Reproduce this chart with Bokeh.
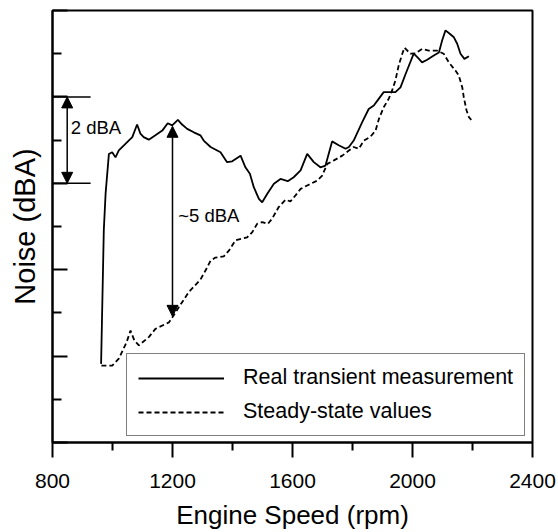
from bokeh.plotting import figure
from bokeh.models import (Range1d, FixedTicker, Legend, LegendItem, Arrow, NormalHead,
                          CustomLabelingPolicy)
from bokeh.core.properties import value
from bokeh.embed import file_html
from bokeh.resources import INLINE

# --- data (engine speed in rpm, noise in relative dBA) ---
real_rpm = [962, 971, 977, 988, 999, 1010, 1021, 1038, 1054, 1066, 1082, 1093, 1104, 1121,
            1143, 1166, 1184, 1199, 1218, 1232, 1249, 1271, 1293, 1304, 1327, 1360, 1382,
            1399, 1427, 1443, 1458, 1471, 1488, 1499, 1516, 1538, 1560, 1584, 1604, 1627,
            1649, 1671, 1693, 1710, 1732, 1754, 1777, 1788, 1804, 1832, 1854, 1871, 1888,
            1904, 1943, 1960, 1977, 2004, 2016, 2032, 2049, 2071, 2088, 2099, 2110, 2121,
            2138, 2149, 2160, 2173, 2188]
real_noise = [1.82, 4.91, 5.76, 6.68, 6.72, 6.60, 6.76, 6.88, 6.99, 7.07, 7.36, 7.15, 7.07, 7.01,
              7.11, 7.22, 7.39, 7.34, 7.47, 7.36, 7.26, 7.18, 7.11, 6.99, 6.84, 6.72, 6.49,
              6.51, 6.64, 6.37, 6.22, 5.91, 5.64, 5.56, 5.76, 5.99, 6.10, 6.05, 6.14, 6.30,
              6.68, 6.49, 6.37, 6.41, 6.97, 6.88, 6.80, 6.84, 6.99, 7.41, 7.72, 7.80, 7.96,
              8.11, 8.11, 8.22, 8.53, 9.00, 8.92, 8.80, 8.86, 8.96, 9.03, 9.31, 9.54, 9.48,
              9.38, 9.23, 9.00, 8.88, 8.94]

steady_rpm = [963, 999, 1021, 1047, 1060, 1073, 1088, 1121, 1143, 1188, 1202, 1221, 1254, 1293,
              1310, 1327, 1343, 1371, 1388, 1410, 1432, 1449, 1466, 1482, 1499, 1518, 1532,
              1554, 1577, 1593, 1610, 1627, 1649, 1682, 1699, 1716, 1738, 1766, 1788, 1804,
              1821, 1838, 1860, 1877, 1888, 1904, 1921, 1932, 1943, 1954, 1966, 1973, 1993,
              2010, 2032, 2054, 2082, 2104, 2121, 2143, 2154, 2166, 2171, 2180, 2188, 2196]
steady_noise = [1.78, 1.78, 1.94, 2.32, 2.59, 2.36, 2.25, 2.44, 2.63, 2.78, 2.92, 3.13, 3.48, 3.77,
                3.98, 4.21, 4.28, 4.31, 4.44, 4.68, 4.72, 4.75, 4.87, 5.06, 5.10, 5.06, 5.18,
                5.45, 5.62, 5.58, 5.72, 5.87, 5.95, 6.06, 6.18, 6.45, 6.53, 6.64, 6.76, 6.84,
                6.80, 6.99, 7.08, 7.22, 7.49, 7.76, 7.96, 8.15, 8.38, 8.73, 9.00, 9.14, 9.00,
                9.01, 9.11, 9.07, 9.07, 9.00, 8.80, 8.61, 8.50, 8.22, 7.99, 7.69, 7.53, 7.47]

series_labels = ["Real transient measurement", "Steady-state values"]
x_title = "Engine Speed (rpm)"
y_title = "Noise (dBA)"
x_major_ticks = [800, 1200, 1600, 2000, 2400]
x_minor_ticks = [1000, 1400, 1800, 2200]
y_major_ticks = [0, 2, 4, 6, 8, 10]
y_minor_ticks = [1, 3, 5, 7, 9]

# annotation values
bracket_levels = [6, 8]          # 2 dBA bracket (dBA)
bracket_x = [800, 927]           # extent of bracket lines (rpm)
bracket_arrow_x = 849
big_arrow_x = 1200
big_arrow_top = 7.32
big_arrow_bottom = 2.92
ann_texts = ["2 dBA", "~5 dBA"]
ann_x = [861, 1219]
ann_y = [7.30, 5.25]

FONT = "Liberation Sans"

p = figure(width=558, height=532, output_backend="svg", toolbar_location=None,
           x_range=Range1d(800, 2400), y_range=Range1d(0, 10),
           min_border_left=52, min_border_right=26, min_border_top=10, min_border_bottom=90)
p.xgrid.visible = False
p.ygrid.visible = False
p.outline_line_color = "black"
p.outline_line_width = 2
p.background_fill_color = "white"
p.border_fill_color = "white"

# x axis
xa = p.xaxis[0]
xa.ticker = FixedTicker(ticks=x_major_ticks, minor_ticks=x_minor_ticks)
xa.axis_line_width = 2
xa.major_tick_line_width = 2
xa.minor_tick_line_width = 2
xa.major_tick_out = 15
xa.major_tick_in = 0
xa.minor_tick_out = 8
xa.minor_tick_in = 0
xa.major_label_text_font = FONT
xa.major_label_text_font_size = "21px"
xa.major_label_text_color = "black"
xa.major_label_standoff = 16
xa.axis_label = x_title
xa.axis_label_text_font = FONT
xa.axis_label_text_font_size = "26px"
xa.axis_label_text_font_style = "normal"
xa.axis_label_text_color = "black"
xa.axis_label_standoff = 9

# y axis (ticks only, no tick labels)
ya = p.yaxis[0]
ya.ticker = FixedTicker(ticks=y_major_ticks, minor_ticks=y_minor_ticks)
ya.axis_line_width = 2
ya.major_tick_line_width = 2
ya.minor_tick_line_width = 2
ya.major_tick_in = 15
ya.major_tick_out = 0
ya.minor_tick_in = 9
ya.minor_tick_out = 0
ya.major_label_policy = CustomLabelingPolicy(code="return []")
ya.major_label_text_font_size = "0px"
ya.major_label_standoff = 0
ya.axis_label = y_title
ya.axis_label_text_font = FONT
ya.axis_label_text_font_size = "29px"
ya.axis_label_text_font_style = "normal"
ya.axis_label_text_color = "black"
ya.axis_label_standoff = 12

# curves
r_real = p.line(real_rpm, real_noise, line_color="black", line_width=1.8)
r_steady = p.line(steady_rpm, steady_noise, line_color="black", line_width=1.8, line_dash="5 3")

# 2 dBA bracket
for lvl in bracket_levels:
    p.line(bracket_x, [lvl, lvl], line_color="black", line_width=1.5)
p.add_layout(Arrow(x_start=bracket_arrow_x, y_start=bracket_levels[0],
                   x_end=bracket_arrow_x, y_end=bracket_levels[1],
                   start=NormalHead(size=11, fill_color="black", line_color="black"),
                   end=NormalHead(size=11, fill_color="black", line_color="black"),
                   line_width=1.5))
# ~5 dBA arrow
p.add_layout(Arrow(x_start=big_arrow_x, y_start=big_arrow_bottom,
                   x_end=big_arrow_x, y_end=big_arrow_top,
                   start=NormalHead(size=11, fill_color="black", line_color="black"),
                   end=NormalHead(size=11, fill_color="black", line_color="black"),
                   line_width=1.5))

p.text(x=ann_x, y=ann_y, text=ann_texts, text_font=value(FONT), text_font_size="18.5px",
       text_align="left", text_baseline="middle", text_color="black")

legend = Legend(items=[LegendItem(label=series_labels[0], renderers=[r_real]),
                       LegendItem(label=series_labels[1], renderers=[r_steady])],
                location=(74, 6))
legend.label_text_font = FONT
legend.label_text_font_size = "21.5px"
legend.label_text_color = "black"
legend.glyph_width = 86
legend.glyph_height = 20
legend.label_height = 20
legend.label_standoff = 19
legend.padding = 11
legend.spacing = 9
legend.margin = 0
legend.border_line_color = "black"
legend.border_line_width = 1
legend.background_fill_color = "white"
legend.background_fill_alpha = 1
p.add_layout(legend, "center")

open("out.html", "w").write(file_html(p, INLINE))
